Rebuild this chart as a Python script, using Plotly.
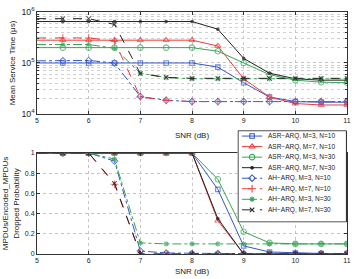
import plotly.graph_objects as go

snr = [5, 5.5, 6, 6.5, 7, 7.5, 8, 8.5, 9, 9.5, 10, 10.5, 11]

names = ["ASR−ARQ, M=3, N=10", "ASR−ARQ, M=7, N=10", "ASR−ARQ, M=3, N=30", "ASR−ARQ, M=7, N=30",
         "AH−ARQ, M=3, N=10", "AH−ARQ, M=7, N=10", "AH−ARQ, M=3, N=30", "AH−ARQ, M=7, N=30"]

# Mean service time (us)
mst_asr_m3n10 = [100000, 100000, 100000, 100000, 100000, 100000, 100000, 83000, 41000, 21500, 17500, 17000, 17000]
mst_asr_m7n10 = [280000, 280000, 280000, 280000, 280000, 280000, 280000, 215000, 49000, 21500, 16000, 15000, 15000]
mst_asr_m3n30 = [200000, 200000, 200000, 200000, 200000, 200000, 200000, 170000, 100000, 59000, 46000, 42000, 41000]
mst_asr_m7n30 = [650000, 650000, 650000, 650000, 650000, 650000, 650000, 460000, 123000, 63000, 49000, 46000, 46000]
mst_ah_m3n10 = [110000, 110000, 112000, 100000, 22000, 18500, 17500, 17500, 17500, 17500, 17500, 17500, 17500]
mst_ah_m7n10 = [310000, 310000, 310000, 270000, 21500, 18500, 17500, 17500, 17500, 17500, 17500, 17500, 17500]
mst_ah_m3n30 = [230000, 230000, 230000, 195000, 63000, 52000, 49000, 49000, 49000, 49000, 49000, 49000, 49000]
mst_ah_m7n30 = [740000, 740000, 740000, 570000, 62000, 52000, 50000, 50000, 50000, 50000, 50000, 50000, 50000]

# Dropped probability
dp_asr_m3n10 = [1, 1, 1, 1, 1, 1, 1, 0.64, 0.08, 0.02, 0.01, 0.005, 0.005]
dp_asr_m7n10 = [1, 1, 1, 1, 1, 1, 1, 0.33, 0, 0, 0, 0, 0]
dp_asr_m3n30 = [1, 1, 1, 1, 1, 1, 1, 0.74, 0.22, 0.11, 0.10, 0.10, 0.10]
dp_asr_m7n30 = [1, 1, 1, 1, 1, 1, 1, 0.35, 0, 0, 0, 0, 0]
dp_ah_m3n10 = [1, 1, 1, 0.92, 0.03, 0.01, 0.005, 0.005, 0.005, 0.005, 0.005, 0.005, 0.005]
dp_ah_m7n10 = [1, 1, 1, 0.69, 0, 0, 0, 0, 0, 0, 0, 0, 0]
dp_ah_m3n30 = [1, 1, 1, 0.94, 0.11, 0.10, 0.10, 0.10, 0.10, 0.10, 0.10, 0.10, 0.10]
dp_ah_m7n30 = [1, 1, 1, 0.70, 0, 0, 0, 0, 0, 0, 0, 0, 0]

mst = [mst_asr_m3n10, mst_asr_m7n10, mst_asr_m3n30, mst_asr_m7n30,
       mst_ah_m3n10, mst_ah_m7n10, mst_ah_m3n30, mst_ah_m7n30]
dp = [dp_asr_m3n10, dp_asr_m7n10, dp_asr_m3n30, dp_asr_m7n30,
      dp_ah_m3n10, dp_ah_m7n10, dp_ah_m3n30, dp_ah_m7n30]

BLUE = "#3557c8"
RED = "#ef3b3b"
GREEN = "#3aa457"
BLACK = "#222222"
colors = [BLUE, RED, GREEN, BLACK, BLUE, RED, GREEN, BLACK]
dashes = ["solid", "solid", "solid", "solid", "dashdot", "dash", "dashdot", "dash"]
symbols = ["square-open", "triangle-up-open", "circle-open", "circle",
           "diamond-open", "cross-thin-open", "asterisk-open", "x-thin-open"]
msizes = [4.5, 5.5, 5.5, 2.5, 5, 5.5, 4.5, 4.5]

fig = go.Figure()
for i in range(8):
    sizes = [0] + [msizes[i]] * (len(snr) - 1)
    for yv, xa, ya in [(mst[i], "x", "y"), (dp[i], "x2", "y2")]:
        fig.add_trace(go.Scatter(
            x=snr, y=yv, xaxis=xa, yaxis=ya, mode="lines+markers",
            line=dict(color=colors[i], width=1, dash=dashes[i]),
            marker=dict(symbol=symbols[i], size=sizes, color=colors[i],
                        line=dict(color=colors[i], width=1.1)),
            showlegend=False))

# custom legend box in its own overlay axes
LW, LH = 112, 97
fig.add_trace(go.Scatter(x=[0, LW, LW, 0, 0], y=[0, 0, LH, LH, 0], xaxis="x3", yaxis="y3",
                         mode="lines", fill="toself", fillcolor="white",
                         line=dict(color="#222", width=1), showlegend=False, hoverinfo="skip"))
annotations = []
for i in range(8):
    yy = 5.7 + 11.2 * i
    fig.add_trace(go.Scatter(x=[4, 25], y=[yy, yy], xaxis="x3", yaxis="y3", mode="lines",
                             line=dict(color=colors[i], width=1, dash=dashes[i]),
                             showlegend=False, hoverinfo="skip"))
    fig.add_trace(go.Scatter(x=[14.5], y=[yy], xaxis="x3", yaxis="y3", mode="markers",
                             marker=dict(symbol=symbols[i], size=msizes[i], color=colors[i],
                                         line=dict(color=colors[i], width=1.1)),
                             showlegend=False, hoverinfo="skip"))
    annotations.append(dict(x=29, y=yy, xref="x3", yref="y3", text=names[i], showarrow=False,
                            xanchor="left", yanchor="middle",
                            font=dict(size=6.5, color="#222")))

FONT = "Liberation Sans, Arial, sans-serif"
axcommon = dict(showline=True, linecolor="#333", linewidth=1, mirror="allticks",
                ticks="inside", ticklen=3, tickcolor="#333",
                showgrid=True, gridcolor="#c4c4c4", griddash="dot", gridwidth=1,
                zeroline=False, tickfont=dict(size=7, color="#222"))

fig.update_layout(
    width=356, height=279,
    margin=dict(l=34, r=5, t=7, b=18),
    paper_bgcolor="white", plot_bgcolor="white",
    font=dict(family=FONT, color="#222"),
    annotations=annotations,
    xaxis=dict(domain=[0, 1], range=[5, 11], anchor="y", dtick=1,
               title=dict(text="SNR (dB)", font=dict(size=8), standoff=9), **axcommon),
    yaxis=dict(domain=[0.5787, 1], type="log", range=[4, 6], anchor="x",
               dtick=1, exponentformat="power", showexponent="all",
               minor=dict(dtick="D1", showgrid=True, gridcolor="#d0d0d0", griddash="dot",
                          ticks="inside", ticklen=2, tickcolor="#333"),
               title=dict(text="Mean Service Time (μs)", font=dict(size=8), standoff=4),
               **axcommon),
    xaxis2=dict(domain=[0, 1], range=[5, 11], anchor="y2", dtick=1,
                title=dict(text="SNR (dB)", font=dict(size=8), standoff=4), **axcommon),
    yaxis2=dict(domain=[0, 0.4173], range=[0, 1], anchor="x2",
                tickvals=[0, 0.2, 0.4, 0.6, 0.8, 1], ticktext=["0", "0.2", "0.4", "0.6", "0.8", "1"],
                title=dict(text="MPDUs/Encoded_MPDUs<br>Dropped Probability", font=dict(size=8),
                           standoff=4),
                **axcommon),
    xaxis3=dict(domain=[0.6467, 1], range=[-0.6, LW + 0.6], anchor="y3", visible=False),
    yaxis3=dict(domain=[0.13, 0.5118], range=[LH + 0.6, -0.6], anchor="x3", visible=False),
)

fig.write_html("out.html")
